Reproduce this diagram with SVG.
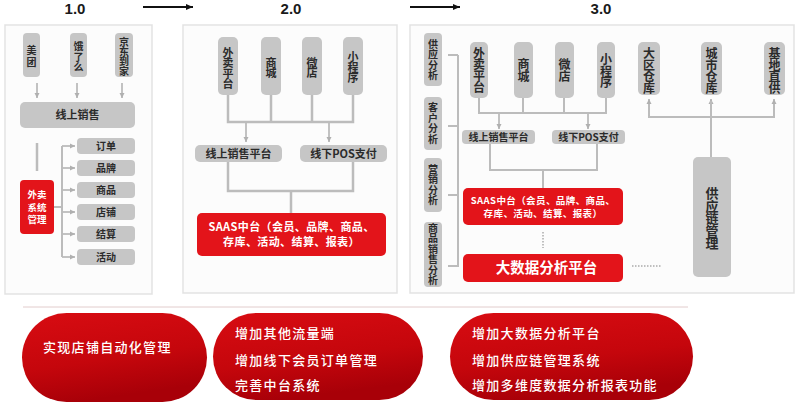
<svg xmlns="http://www.w3.org/2000/svg" width="800" height="403" viewBox="0 0 800 403">
<style>
text{font-family:"Noto Sans CJK SC","Noto Sans",sans-serif;}
.frame{fill:#fcfcfc;stroke:#e3e3e3;stroke-width:1.5;}
.g{fill:#c6c6c6;}
.r{fill:#e3141a;}
.gt{fill:#2b2b2b;font-weight:bold;text-anchor:middle;}
.wt{fill:#ffffff;font-weight:bold;text-anchor:middle;}
.v{writing-mode:vertical-rl;text-anchor:middle;}
.ln{fill:none;stroke:#bcbcbc;stroke-width:2.5;}
.ln2{fill:none;stroke:#bcbcbc;stroke-width:2;}
.ar{fill:none;stroke:#bcbcbc;stroke-width:1.8;marker-end:url(#ah);}
.dot{fill:none;stroke:#aaaaaa;stroke-width:1.5;stroke-dasharray:1.5 1.5;}
.title{font-family:"Liberation Sans",Arial,sans-serif;font-weight:bold;font-size:15px;fill:#1a1a1a;text-anchor:middle;}
.pt{fill:#ffffff;font-size:13px;letter-spacing:1.3px;font-weight:500;}
</style>
<defs>
<marker id="ah" markerWidth="6" markerHeight="6" refX="5" refY="3" orient="auto" markerUnits="userSpaceOnUse">
<path d="M0,0.5 L5,3 L0,5.5 Z" fill="#b0b0b0"/>
</marker>
<marker id="bh" markerWidth="8" markerHeight="8" refX="7" refY="4" orient="auto" markerUnits="userSpaceOnUse">
<path d="M0,1 L7,4 L0,7 Z" fill="#111111"/>
</marker>
<linearGradient id="pill" x1="0" y1="0" x2="0.3" y2="1">
<stop offset="0" stop-color="#d80c12"/>
<stop offset="0.6" stop-color="#c5060c"/>
<stop offset="1" stop-color="#a80008"/>
</linearGradient>
</defs>
<rect width="800" height="403" fill="#ffffff"/>

<!-- titles -->
<g id="titles">
<text class="title" x="75" y="14">1.0</text>
<text class="title" x="291" y="14">2.0</text>
<text class="title" x="601" y="14">3.0</text>
<line x1="143" y1="7" x2="193" y2="7" stroke="#111" stroke-width="2" marker-end="url(#bh)"/>
<line x1="410" y1="7" x2="460" y2="7" stroke="#111" stroke-width="2" marker-end="url(#bh)"/>
</g>

<!-- frames -->
<rect class="frame" x="5" y="25" width="147" height="269"/>
<rect class="frame" x="183" y="25" width="214" height="268"/>
<rect class="frame" x="410" y="25" width="384" height="268"/>

<!-- connectors -->
<g id="connectors">
<!-- panel 1 -->
<line class="ar" x1="37" y1="83" x2="37" y2="98"/>
<line class="ar" x1="77" y1="83" x2="77" y2="98"/>
<line class="ar" x1="122" y1="83" x2="122" y2="98"/>
<line class="ln" x1="37" y1="143" x2="37" y2="171"/>
<polyline class="ln2" points="54,207 62,207"/>
<line class="ln2" x1="62" y1="146" x2="62" y2="257"/>
<line class="ar" x1="62" y1="146" x2="75" y2="146"/>
<line class="ar" x1="62" y1="168" x2="75" y2="168"/>
<line class="ar" x1="62" y1="190" x2="75" y2="190"/>
<line class="ar" x1="62" y1="212" x2="75" y2="212"/>
<line class="ar" x1="62" y1="234" x2="75" y2="234"/>
<line class="ar" x1="62" y1="257" x2="75" y2="257"/>
<!-- panel 2 -->
<polyline class="ln" points="228,95 228,122 353,122 353,95"/>
<line class="ln" x1="271" y1="95" x2="271" y2="122"/>
<line class="ln" x1="312" y1="95" x2="312" y2="122"/>
<line class="ar" x1="246" y1="122" x2="246" y2="142"/>
<line class="ar" x1="329" y1="122" x2="329" y2="142"/>
<polyline class="ln" points="228,162 228,191 353,191 353,162"/>
<line class="ln" x1="291" y1="191" x2="291" y2="213"/>
<!-- panel 3 -->
<line class="ln2" x1="458" y1="55" x2="458" y2="267"/>
<line class="ln2" x1="448" y1="55" x2="458" y2="55"/>
<line class="ln2" x1="448" y1="126" x2="458" y2="126"/>
<line class="ln2" x1="448" y1="195" x2="458" y2="195"/>
<line class="ln2" x1="448" y1="266" x2="458" y2="266"/>
<polyline class="ln2" points="479,98 479,113 606,113 606,98"/>
<line class="ln2" x1="523" y1="98" x2="523" y2="113"/>
<line class="ln2" x1="564" y1="98" x2="564" y2="113"/>
<line class="ar" x1="499" y1="113" x2="499" y2="129"/>
<line class="ar" x1="588" y1="113" x2="588" y2="129"/>
<polyline class="ln2" points="490,144 490,170 597,170 597,144"/>
<line class="ln2" x1="543" y1="170" x2="543" y2="188"/>
<line class="dot" x1="543" y1="232" x2="543" y2="248"/>
<line class="dot" x1="632" y1="266" x2="662" y2="266"/>
<polyline class="ln2" points="649,101 649,117 774,117 774,101"/>
<line class="ar" x1="649" y1="110" x2="649" y2="99"/>
<line class="ar" x1="711" y1="110" x2="711" y2="99"/>
<line class="ar" x1="774" y1="110" x2="774" y2="99"/>
<line class="ln2" x1="711" y1="101" x2="711" y2="157"/>
</g>

<!-- panel 1 nodes -->
<g id="n-meituan"><rect class="g" x="23" y="33" width="17" height="44" rx="4"/>
<text class="gt v" font-size="10" letter-spacing="2" x="31.5" y="57">美团</text></g>
<g id="n-eleme"><rect class="g" x="70" y="33" width="17" height="44" rx="4"/>
<text class="gt v" font-size="10" letter-spacing="0.5" x="78.5" y="57">饿了么</text></g>
<g id="n-jd"><rect class="g" x="115" y="33" width="18" height="44" rx="4"/>
<text class="gt v" font-size="10" letter-spacing="-0.3" x="124" y="56.5">京东到家</text></g>
<g id="n-online1"><rect class="g" x="20" y="102" width="115" height="26" rx="5"/>
<text class="gt" font-size="11" x="77.5" y="119">线上销售</text></g>
<g id="n-waimai"><rect class="r" x="20" y="180" width="34" height="54" rx="4"/>
<text class="wt" font-size="9.5" x="37" y="198">外卖</text>
<text class="wt" font-size="9.5" x="37" y="210.5">系统</text>
<text class="wt" font-size="9.5" x="37" y="223">管理</text></g>
<g id="n-order"><rect class="g" x="77" y="138" width="58" height="16" rx="4"/><text class="gt" font-size="10" x="106" y="149.5">订单</text></g>
<g id="n-brand"><rect class="g" x="77" y="160" width="58" height="16" rx="4"/><text class="gt" font-size="10" x="106" y="171.5">品牌</text></g>
<g id="n-goods"><rect class="g" x="77" y="182" width="58" height="16" rx="4"/><text class="gt" font-size="10" x="106" y="193.5">商品</text></g>
<g id="n-shop"><rect class="g" x="77" y="204" width="58" height="16" rx="4"/><text class="gt" font-size="10" x="106" y="215.5">店铺</text></g>
<g id="n-settle"><rect class="g" x="77" y="226" width="58" height="16" rx="4"/><text class="gt" font-size="10" x="106" y="237.5">结算</text></g>
<g id="n-activity"><rect class="g" x="77" y="249" width="58" height="16" rx="4"/><text class="gt" font-size="10" x="106" y="260.5">活动</text></g>

<!-- panel 2 nodes -->
<g id="n2-waimai"><rect class="g" x="218" y="37" width="20" height="58" rx="5"/>
<text class="gt v" font-size="11" letter-spacing="-0.5" x="228" y="68">外卖平台</text></g>
<g id="n2-mall"><rect class="g" x="261" y="37" width="20" height="58" rx="5"/>
<text class="gt v" font-size="11" letter-spacing="-0.5" x="271" y="67.5">商城</text></g>
<g id="n2-wd"><rect class="g" x="302" y="37" width="20" height="58" rx="5"/>
<text class="gt v" font-size="11" letter-spacing="-0.5" x="312" y="67.5">微店</text></g>
<g id="n2-mini"><rect class="g" x="343" y="37" width="20" height="58" rx="5"/>
<text class="gt v" font-size="11" letter-spacing="-0.5" x="353" y="67.5">小程序</text></g>
<g id="n2-online"><rect class="g" x="195" y="145" width="87" height="17" rx="5"/>
<text class="gt" font-size="11" x="238.5" y="157.5">线上销售平台</text></g>
<g id="n2-pos"><rect class="g" x="300" y="145" width="87" height="17" rx="5"/>
<text class="gt" font-size="11" x="343.5" y="157.5">线下POS支付</text></g>
<g id="n2-saas"><rect class="r" x="197" y="213" width="189" height="43" rx="5"/>
<text class="wt" font-size="11" letter-spacing="0.4" x="291.5" y="231">SAAS中台（会员、品牌、商品、</text>
<text class="wt" font-size="11" letter-spacing="0.4" x="291.5" y="245.5">存库、活动、结算、报表）</text></g>

<!-- panel 3 nodes -->
<g id="n3-supply"><rect class="g" x="424" y="33" width="18" height="53" rx="4"/>
<text class="gt v" font-size="10" letter-spacing="0.5" x="433" y="60">供应分析</text></g>
<g id="n3-customer"><rect class="g" x="424" y="97" width="18" height="53" rx="4"/>
<text class="gt v" font-size="10" letter-spacing="0.5" x="433" y="123.5">客户分析</text></g>
<g id="n3-marketing"><rect class="g" x="424" y="158" width="18" height="54" rx="4"/>
<text class="gt v" font-size="10" letter-spacing="0.5" x="433" y="185">营销分析</text></g>
<g id="n3-goods"><rect class="g" x="424" y="222" width="18" height="65" rx="4"/>
<text class="gt v" font-size="10" letter-spacing="0.5" x="433" y="254.5">商品销售分析</text></g>
<g id="n3-waimai"><rect class="g" x="470" y="42" width="18" height="56" rx="5"/>
<text class="gt v" font-size="12" letter-spacing="-0.5" x="479" y="70">外卖平台</text></g>
<g id="n3-mall"><rect class="g" x="514" y="42" width="19" height="56" rx="5"/>
<text class="gt v" font-size="12" letter-spacing="-0.5" x="523.5" y="70">商城</text></g>
<g id="n3-wd"><rect class="g" x="555" y="42" width="19" height="56" rx="5"/>
<text class="gt v" font-size="12" letter-spacing="-0.5" x="564.5" y="70">微店</text></g>
<g id="n3-mini"><rect class="g" x="597" y="42" width="18" height="56" rx="5"/>
<text class="gt v" font-size="12" letter-spacing="-0.5" x="606" y="71">小程序</text></g>
<g id="n3-online"><rect class="g" x="462" y="130" width="73" height="14" rx="4"/>
<text class="gt" font-size="10" x="498.5" y="140.5">线上销售平台</text></g>
<g id="n3-pos"><rect class="g" x="552" y="130" width="73" height="14" rx="4"/>
<text class="gt" font-size="10" x="588.5" y="140.5">线下POS支付</text></g>
<g id="n3-saas"><rect class="r" x="463" y="188" width="160" height="37" rx="5"/>
<text class="wt" font-size="9.5" letter-spacing="0.4" x="543" y="203.5">SAAS中台（会员、品牌、商品、</text>
<text class="wt" font-size="9.5" letter-spacing="0.4" x="543" y="216.5">存库、活动、结算、报表）</text></g>
<g id="n3-bigdata"><rect class="r" x="463" y="254" width="160" height="28" rx="5"/>
<text class="wt" font-size="14.5" x="546.5" y="273">大数据分析平台</text></g>
<g id="n3-region"><rect class="g" x="638" y="42" width="22" height="53" rx="5"/>
<text class="gt v" font-size="12" letter-spacing="-0.5" x="649" y="70.5">大区仓库</text></g>
<g id="n3-city"><rect class="g" x="701" y="42" width="21" height="53" rx="5"/>
<text class="gt v" font-size="12" letter-spacing="-0.5" x="711.5" y="70.5">城市仓库</text></g>
<g id="n3-base"><rect class="g" x="764" y="42" width="21" height="53" rx="5"/>
<text class="gt v" font-size="12" letter-spacing="-0.5" x="774.5" y="70.5">基地直供</text></g>
<g id="n3-scm"><rect class="g" x="693" y="157" width="38" height="120" rx="5"/>
<text class="gt v" font-size="13" letter-spacing="-0.5" fill="#111" x="712" y="218">供应链管理</text></g>

<!-- bottom -->
<line x1="23" y1="307" x2="688" y2="307" stroke="#e2cccc" stroke-width="1"/>
<g id="pill1"><rect x="22" y="313" width="185" height="89" rx="44.5" fill="url(#pill)"/>
<text class="pt" x="43" y="352">实现店铺自动化管理</text></g>
<g id="pill2"><rect x="213" y="313" width="210" height="87" rx="43.5" fill="url(#pill)"/>
<text class="pt" x="235" y="338">增加其他流量端</text>
<text class="pt" x="235" y="365">增加线下会员订单管理</text>
<text class="pt" x="235" y="390">完善中台系统</text></g>
<g id="pill3"><rect x="450" y="313" width="243" height="87" rx="43.5" fill="url(#pill)"/>
<text class="pt" x="472" y="338">增加大数据分析平台</text>
<text class="pt" x="472" y="365">增加供应链管理系统</text>
<text class="pt" x="472" y="390">增加多维度数据分析报表功能</text></g>
</svg>
